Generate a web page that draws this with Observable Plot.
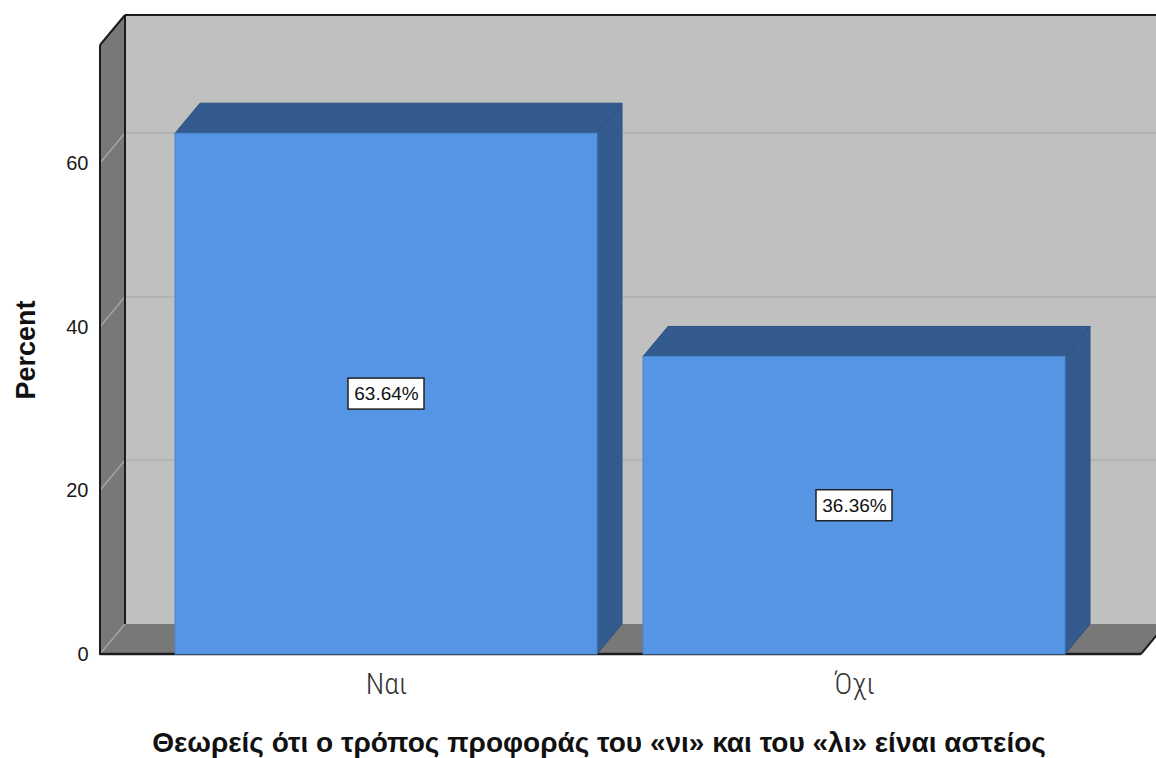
<!DOCTYPE html>
<html><head><meta charset="utf-8">
<script src="https://cdn.jsdelivr.net/npm/d3@7"></script>
<script src="https://cdn.jsdelivr.net/npm/@observablehq/plot@0.6"></script>
<style>html,body{margin:0;padding:0;background:#fff;overflow:hidden}</style>
</head><body><div id="chart"></div>
<script>
// ---- data ----
const categories = ["Ναι", "Όχι"];
const percents = [63.64, 36.36];
const valueLabels = ["63.64%", "36.36%"];
const yTicks = [0, 20, 40, 60];
const xTitle = "Θεωρείς ότι ο τρόπος προφοράς του «νι» και του «λι» είναι αστείος";
const yTitle = "Percent";

const rows = categories.map((c, i) => ({category: c, percent: percents[i], label: valueLabels[i]}));

// ---- style ----
const DX = 25, DY = -30; // 3D depth offset (px)
const C = {
  wall: "#c0c0c0", side: "#787878", grid: "#b2b2b2", sideGrid: "#a4a4a4",
  edge: "#1c1c1c", front: "#5595e3", frontEdge: "#4b86d0", dark: "#335b8e", darkEdge: "#2c5182"
};
const FONT = "'Liberation Sans', Arial, sans-serif";

function poly(g, pts, fill, stroke, sw = 1) {
  g.append("path").attr("d", "M" + pts.map(p => p.join(",")).join("L") + "Z")
    .attr("fill", fill).attr("stroke", stroke || "none").attr("stroke-width", sw)
    .attr("stroke-linejoin", "round");
}
function line(g, a, b, stroke, sw) {
  g.append("line").attr("x1", a[0]).attr("y1", a[1]).attr("x2", b[0]).attr("y2", b[1])
    .attr("stroke", stroke).attr("stroke-width", sw);
}

// walls, floor, gridlines
function walls(index, scales, values, dim) {
  const {y} = scales;
  const g = d3.create("svg:g");
  const xl = dim.marginLeft, xr = dim.width - dim.marginRight;
  const y0 = y(0), yt = dim.marginTop;
  poly(g, [[xl + DX, yt + DY], [xr + DX, yt + DY], [xr + DX, y0 + DY], [xl + DX, y0 + DY]], C.wall);
  yTicks.filter(v => v > 0).forEach(v => line(g, [xl + DX, y(v) + DY], [xr + DX, y(v) + DY], C.grid, 2));
  poly(g, [[xl, y0], [xr, y0], [xr + DX, y0 + DY], [xl + DX, y0 + DY]], C.side);
  poly(g, [[xl, yt], [xl + DX, yt + DY], [xl + DX, y0 + DY], [xl, y0]], C.side);
  yTicks.forEach(v => line(g, [xl, y(v)], [xl + DX, y(v) + DY], C.sideGrid, 1.5));
  line(g, [xl, yt], [xl, y0 + 1], C.edge, 2);
  line(g, [xl + DX, yt + DY], [xl + DX, y0 + DY], C.edge, 2);
  line(g, [xl, yt], [xl + DX, yt + DY], C.edge, 2);
  line(g, [xl + DX, yt + DY], [xr + DX + 5, yt + DY], C.edge, 2);
  line(g, [xl, y0], [xr, y0], C.edge, 2.5);
  line(g, [xr, y0], [xr + DX, y0 + DY], C.edge, 2);
  return g.node();
}

// bar top and side faces
function barDepth(index, scales) {
  const {x, y} = scales;
  const g = d3.create("svg:g");
  const bw = x.bandwidth();
  const y0 = y(0);
  rows.forEach(d => {
    const xa = x(d.category), xb = xa + bw, yv = y(d.percent);
    poly(g, [[xb, yv], [xb + DX, yv + DY], [xb + DX, y0 + DY], [xb, y0]], C.dark, C.darkEdge, 1);
    poly(g, [[xa, yv], [xb, yv], [xb + DX, yv + DY], [xa + DX, yv + DY]], C.dark, C.darkEdge, 1);
  });
  return g.node();
}

// white boxes behind value labels
function labelBoxes(index, scales) {
  const {x, y} = scales;
  const g = d3.create("svg:g");
  const bw = x.bandwidth();
  rows.forEach(d => {
    const cx = x(d.category) + bw / 2, cy = y(d.percent / 2);
    g.append("rect").attr("x", cx - 38).attr("y", cy - 15.5).attr("width", 76).attr("height", 31)
      .attr("fill", "#fff").attr("stroke", "#222").attr("stroke-width", 1.5);
  });
  return g.node();
}

const chart = Plot.plot({
  width: 1156,
  height: 758,
  marginLeft: 100,
  marginRight: 15,
  marginTop: 45,
  marginBottom: 104,
  style: {background: "#fff", overflow: "hidden"},
  x: {domain: categories, paddingInner: 0.098, paddingOuter: 0.161, axis: null},
  y: {domain: [0, 74.42], axis: null},
  marks: [
    walls,
    barDepth,
    Plot.barY(rows, {x: "category", y: "percent", fill: C.front, stroke: C.frontEdge, strokeWidth: 1}),
    labelBoxes,
    Plot.text(rows, {x: "category", y: d => d.percent / 2, text: "label", fontSize: 19, fontFamily: FONT, fill: "#111"}),
    Plot.axisY({ticks: yTicks, tickSize: 0, tickPadding: 12, fontSize: 20, fontFamily: FONT, color: "#1a1a1a", label: null}),
    Plot.text(rows, {x: "category", frameAnchor: "bottom", dy: 39, text: "category", fontSize: 30,
      fontFamily: "'Liberation Sans Narrow', 'Roboto Condensed', sans-serif", fontWeight: 300, fill: "#333"}),
    Plot.text([xTitle], {frameAnchor: "bottom", dx: -22, dy: 97, text: d => d, fontSize: 28, fontWeight: "bold", fontFamily: FONT, fill: "#111"}),
    Plot.text([yTitle], {frameAnchor: "left", dx: -74, rotate: -90, textAnchor: "middle", text: d => d, fontSize: 27, fontWeight: "bold", fontFamily: FONT, fill: "#111"})
  ]
});
document.getElementById("chart").append(chart);
</script>
</body></html>
